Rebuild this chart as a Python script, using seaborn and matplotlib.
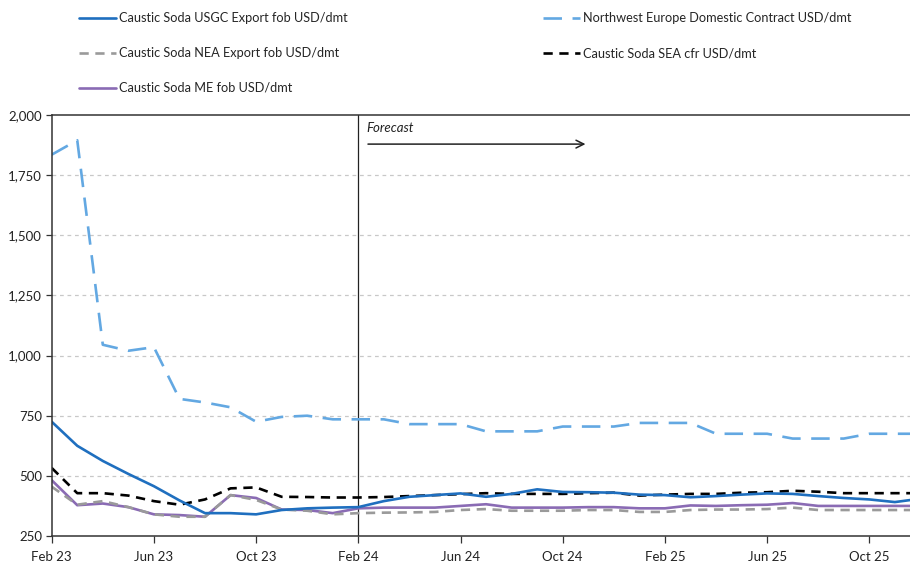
import numpy as np
import pandas as pd
import matplotlib
matplotlib.use("Agg")
import matplotlib.pyplot as plt
import seaborn as sns
from matplotlib.lines import Line2D

# ---------------- data ----------------
months = ["Feb 23", "Mar 23", "Apr 23", "May 23", "Jun 23", "Jul 23", "Aug 23", "Sep 23",
          "Oct 23", "Nov 23", "Dec 23", "Jan 24", "Feb 24", "Mar 24", "Apr 24", "May 24",
          "Jun 24", "Jul 24", "Aug 24", "Sep 24", "Oct 24", "Nov 24", "Dec 24", "Jan 25",
          "Feb 25", "Mar 25", "Apr 25", "May 25", "Jun 25", "Jul 25", "Aug 25", "Sep 25",
          "Oct 25", "Nov 25", "Dec 25"]

usgc = [725, 625, 562, 508, 457, 398, 345, 345, 340, 358, 365, 368, 370, 395, 413, 420,
        427, 413, 425, 444, 433, 432, 430, 422, 420, 411, 416, 422, 427, 425, 416, 408,
        402, 391, 405]
nwe = [1835, 1895, 1045, 1020, 1035, 820, 805, 785, 725, 745, 750, 735, 735, 735, 715, 715,
       715, 685, 685, 685, 705, 705, 705, 720, 720, 720, 675, 675, 675, 655, 655, 655,
       675, 675, 675]
nea = [455, 380, 395, 370, 340, 330, 330, 420, 400, 360, 355, 340, 345, 347, 348, 350,
       358, 362, 355, 355, 355, 358, 358, 350, 350, 358, 360, 360, 362, 368, 358, 358,
       358, 358, 358]
sea = [533, 428, 428, 418, 395, 380, 402, 448, 452, 413, 412, 410, 410, 412, 416, 420,
       424, 428, 425, 425, 425, 428, 430, 418, 422, 425, 425, 430, 432, 438, 434, 428,
       428, 428, 428]
me = [482, 378, 385, 370, 340, 337, 330, 420, 408, 360, 358, 345, 365, 368, 368, 368,
      375, 382, 368, 368, 368, 370, 370, 365, 365, 377, 375, 378, 380, 387, 375, 375,
      375, 375, 375]

series_names = ["Caustic Soda USGC Export fob USD/dmt",
                "Northwest Europe Domestic Contract USD/dmt",
                "Caustic Soda NEA Export fob USD/dmt",
                "Caustic Soda SEA cfr USD/dmt",
                "Caustic Soda ME fob USD/dmt"]
yticks = [250, 500, 750, 1000, 1250, 1500, 1750, 2000]
xtick_labels = ["Feb 23", "Jun 23", "Oct 23", "Feb 24", "Jun 24", "Oct 24", "Feb 25", "Jun 25", "Oct 25"]

# ---------------- styling ----------------
sns.set_theme(style="white")
plt.rcParams["font.family"] = ["Lato", "DejaVu Sans"]

styles = {
    series_names[0]: dict(color="#1F6FBF", linestyle="-", linewidth=1.9),
    series_names[1]: dict(color="#63A8E2", linestyle=(0, (7, 4)), linewidth=1.9),
    series_names[2]: dict(color="#9A9A9A", linestyle=(0, (3.5, 2.5)), linewidth=1.9),
    series_names[3]: dict(color="#000000", linestyle=(0, (3.5, 2.5)), linewidth=1.9),
    series_names[4]: dict(color="#8A6BB4", linestyle="-", linewidth=1.9),
}

x = np.arange(len(months))
df = pd.DataFrame({"x": x, series_names[0]: usgc, series_names[1]: nwe,
                   series_names[2]: nea, series_names[3]: sea, series_names[4]: me})

W, H = 910, 564
fig = plt.figure(figsize=(W / 100, H / 100), dpi=100)
left_px, right_px, top_px, bot_px = 51.7, 910, 115, 536
ax = fig.add_axes([left_px / W, (H - bot_px) / H, (right_px - left_px) / W, (bot_px - top_px) / H])

draw_order = [series_names[1], series_names[4], series_names[2], series_names[3], series_names[0]]
for name in draw_order:
    sns.lineplot(data=df, x="x", y=name, ax=ax, legend=False, **styles[name])

px_per_month = 25.55
ax.set_xlim(0, (right_px - left_px) / px_per_month)
ax.set_ylim(250, 2000)

ax.set_yticks(yticks)
ax.set_yticklabels([f"{v:,}" for v in yticks], fontsize=9.5, color="#222222")
tick_pos = [months.index(m) for m in xtick_labels]
ax.set_xticks(tick_pos)
ax.set_xticklabels(xtick_labels, fontsize=9.5, color="#222222")
ax.set_xlabel("")
ax.set_ylabel("")

ax.tick_params(axis="y", direction="out", length=4, width=0.9, color="#333333", pad=3, left=True)
ax.tick_params(axis="x", direction="out", length=5, width=0.9, color="#333333", pad=6, bottom=True)

for v in yticks[1:-1]:
    ax.axhline(v, color="#C8C8C8", linewidth=0.9, linestyle=(0, (3, 3)), zorder=0)

for side in ["left", "bottom", "top"]:
    ax.spines[side].set_visible(True)
    ax.spines[side].set_color("#333333")
    ax.spines[side].set_linewidth(1.1)
ax.spines["right"].set_visible(False)

# Forecast divider & annotation
fc = months.index("Feb 24")
ax.axvline(fc, color="#222222", linewidth=0.9, zorder=1)
ax.text(fc + 0.3, 1947, "Forecast", fontstyle="italic", fontsize=9.5, color="#222222",
        va="center", ha="left")
ax.annotate("", xy=(months.index("Nov 24"), 1879), xytext=(fc + 0.27, 1879),
            arrowprops=dict(arrowstyle="->", color="#222222", lw=1.1, mutation_scale=14))

# legend (two blocks)
def handle(name):
    st = styles[name]
    return Line2D([0], [0], color=st["color"], linestyle=st["linestyle"], linewidth=st["linewidth"])

leg_kw = dict(frameon=False, fontsize=9.2, handlelength=2.9, handletextpad=0.25,
              labelspacing=1.78, borderpad=0, borderaxespad=0, loc="upper left")
leg1 = fig.legend([handle(n) for n in [series_names[0], series_names[2], series_names[4]]],
                  [series_names[0], series_names[2], series_names[4]],
                  bbox_to_anchor=(79 / W, 1 - 12.5 / H), **leg_kw)
leg2 = fig.legend([handle(n) for n in [series_names[1], series_names[3]]],
                  [series_names[1], series_names[3]],
                  bbox_to_anchor=(543 / W, 1 - 12.5 / H), **leg_kw)

fig.savefig("out.png", dpi=100)
